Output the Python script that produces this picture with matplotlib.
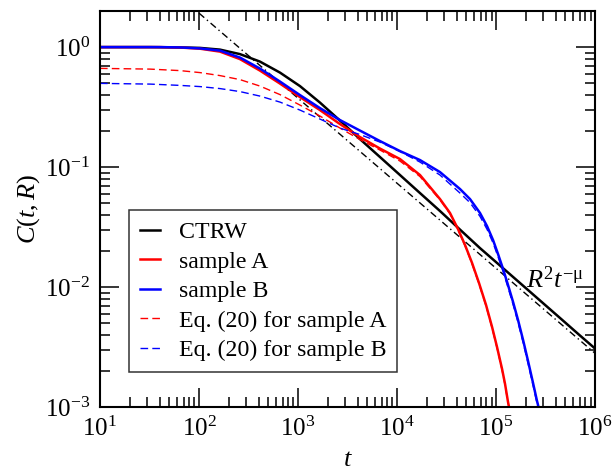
import matplotlib
matplotlib.use("Agg")
import matplotlib.pyplot as plt
import numpy as np
from matplotlib.ticker import LogLocator, NullFormatter

plt.rcParams['font.family'] = ['Liberation Serif', 'DejaVu Serif']
plt.rcParams['mathtext.fontset'] = 'custom'
plt.rcParams['mathtext.rm'] = 'Liberation Serif'
plt.rcParams['mathtext.it'] = 'Liberation Serif:italic'

# values: log10(t) and C(t,R)
logt_ctrw = [1.0, 1.505, 1.808, 2.010, 2.212, 2.414, 2.616, 2.818, 3.020, 3.222, 3.424, 3.626,
             3.828, 4.030, 4.232, 4.434, 4.636, 4.838, 5.040, 5.242, 5.444, 5.646, 5.848, 6.0]
c_ctrw = [1.0, 1.0, 0.994, 0.985, 0.953, 0.874, 0.757, 0.613, 0.473, 0.3446, 0.244, 0.171,
          0.1212, 0.0858, 0.0607, 0.0430, 0.0301, 0.0211, 0.0151, 0.0108, 0.00772, 0.00552,
          0.00394, 0.00307]

logt_a = [1.0, 1.606, 1.808, 2.010, 2.212, 2.414, 2.616, 2.818, 3.020, 3.222, 3.424, 3.626,
          3.828, 4.030, 4.232, 4.434, 4.535, 4.616, 4.687, 4.758, 4.828, 4.899, 4.960, 5.010,
          5.061, 5.091, 5.121, 5.131]
c_a = [1.0, 1.0, 0.992, 0.9698, 0.917, 0.794, 0.637, 0.4965, 0.383, 0.2985, 0.2282, 0.1778,
       0.1426, 0.1166, 0.0858, 0.0541, 0.0414, 0.0304, 0.0224, 0.01585, 0.0108, 0.00708,
       0.00464, 0.00316, 0.00207, 0.001555, 0.0011, 0.001]

logt_b = [1.0, 1.606, 1.808, 2.010, 2.212, 2.414, 2.616, 2.818, 3.020, 3.222, 3.424, 3.626,
          3.828, 4.030, 4.232, 4.434, 4.636, 4.737, 4.838, 4.909, 4.970, 5.020, 5.071, 5.121,
          5.172, 5.222, 5.273, 5.323, 5.374, 5.414, 5.429]
c_b = [1.0, 1.0, 0.994, 0.9753, 0.935, 0.818, 0.662, 0.516, 0.398, 0.310, 0.2464, 0.2014,
       0.1647, 0.1359, 0.1144, 0.0908, 0.0656, 0.0541, 0.0414, 0.0322, 0.0246, 0.01884,
       0.01413, 0.01039, 0.0075, 0.00531, 0.00362, 0.00242, 0.00158, 0.00112, 0.001]

logt_eq_a = [1.0, 1.505, 1.808, 2.010, 2.212, 2.414, 2.616, 2.818, 3.020, 3.222, 3.424, 3.626,
             3.828, 4.030, 4.232, 4.434, 4.535, 4.616, 4.687, 4.758, 4.828, 4.899, 4.960, 5.010,
             5.061, 5.091, 5.121, 5.131]
c_eq_a = [0.6647, 0.6556, 0.637, 0.6131, 0.5788, 0.5359, 0.4732, 0.4019, 0.3286, 0.2661, 0.2113,
          0.1695, 0.1386, 0.1122, 0.0833, 0.0532, 0.0407, 0.0299, 0.0220, 0.01555, 0.0106,
          0.00695, 0.00455, 0.0031, 0.00203, 0.00152, 0.00108, 0.001]

logt_eq_b = [1.0, 1.505, 1.808, 2.010, 2.212, 2.414, 2.616, 2.818, 3.020, 3.222, 3.424, 3.626,
             3.828, 4.030, 4.232, 4.434, 4.636, 4.737, 4.838, 4.909, 4.970, 5.020, 5.071, 5.121,
             5.172, 5.222, 5.273, 5.323, 5.374, 5.414, 5.424]
c_eq_b = [0.4984, 0.4917, 0.4796, 0.4687, 0.4511, 0.4258, 0.3905, 0.348, 0.2985, 0.2512, 0.2113,
          0.1866, 0.1615, 0.1346, 0.1101, 0.0858, 0.0607, 0.0505, 0.0388, 0.0303, 0.0233,
          0.0179, 0.01345, 0.0099, 0.00716, 0.00507, 0.00346, 0.00231, 0.00151, 0.00107, 0.001]

# power-law guide R^2 t^-mu (end points)
t_pow = [1e2, 1e6]
c_pow = [1.92, 0.0028]

fig = plt.figure(figsize=(6.16, 4.74), dpi=100)
ax = fig.add_axes([0.1623, 0.1414, 0.8037, 0.8354])

ax.plot(t_pow, c_pow, color='black', lw=1.0, dashes=(5, 2.5, 1, 2.5))
ax.plot(10 ** np.array(logt_ctrw), c_ctrw, color='black', lw=1.8, label='CTRW')
ax.plot(10 ** np.array(logt_a), c_a, color='red', lw=1.8, label='sample A')
ax.plot(10 ** np.array(logt_b), c_b, color='blue', lw=1.8, label='sample B')
ax.plot(10 ** np.array(logt_eq_a), c_eq_a, color='red', lw=1.0, dashes=(5.5, 3),
        label='Eq. (20) for sample A')
ax.plot(10 ** np.array(logt_eq_b), c_eq_b, color='blue', lw=1.0, dashes=(5.5, 3),
        label='Eq. (20) for sample B')

ax.set_xscale('log')
ax.set_yscale('log')
ax.set_xlim(1e1, 1e6)
ax.set_ylim(1e-3, 2.0)

ax.xaxis.set_major_locator(LogLocator(base=10, numticks=20))
ax.xaxis.set_minor_locator(LogLocator(base=10, subs=range(2, 10), numticks=20))
ax.yaxis.set_major_locator(LogLocator(base=10, numticks=20))
ax.yaxis.set_minor_locator(LogLocator(base=10, subs=range(2, 10), numticks=20))
ax.xaxis.set_minor_formatter(NullFormatter())
ax.yaxis.set_minor_formatter(NullFormatter())

ax.tick_params(which='both', direction='in', top=True, right=True, width=1.1, labelsize=18)
ax.tick_params(which='major', length=13.5, pad=7)
ax.tick_params(which='minor', length=7)
for s in ax.spines.values():
    s.set_linewidth(1.5)

ax.set_xlabel(r'$t$', fontsize=19, labelpad=6)
ax.set_ylabel(r'$C(t,R)$', fontsize=19, labelpad=2)

ax.text(2.0e5, 0.0098, r'$R^2t^{-\mathrm{\mu}}$', fontsize=19, va='baseline')

leg = ax.legend(loc='lower left', bbox_to_anchor=(0.0586, 0.088), borderaxespad=0,
                fontsize=17.2, frameon=True, fancybox=False, edgecolor='black',
                handlelength=0.85, handletextpad=0.8, labelspacing=0.33,
                borderpad=0.45)
leg.get_frame().set_linewidth(1.1)

fig.savefig('out.png', dpi=100)
